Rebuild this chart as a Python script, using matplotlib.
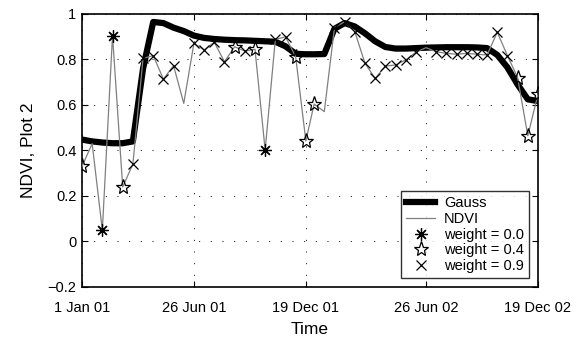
import datetime as dt
import matplotlib
matplotlib.use('Agg')
import matplotlib.pyplot as plt
import matplotlib.dates as mdates
import numpy as np

plt.rcParams['font.family'] = ['Liberation Sans', 'DejaVu Sans']

# 16-day composites, 23 per year, two years
dates = [dt.datetime(y, 1, 1) + dt.timedelta(days=16 * k)
         for y in (2001, 2002) for k in range(23)]

ndvi = [0.33, 0.43, 0.05, 0.905, 0.24, 0.34, 0.805, 0.817, 0.714, 0.773,
        0.607, 0.871, 0.842, 0.876, 0.79, 0.856, 0.837, 0.845, 0.402, 0.888,
        0.90, 0.812, 0.442, 0.604, 0.571, 0.94, 0.966, 0.922, 0.783, 0.717,
        0.771, 0.776, 0.798, 0.832, 0.852, 0.834, 0.827, 0.823, 0.827, 0.823,
        0.82, 0.92, 0.817, 0.72, 0.465, 0.647]

gauss = [0.448, 0.44, 0.435, 0.432, 0.432, 0.44, 0.76, 0.965, 0.96, 0.94,
         0.925, 0.905, 0.895, 0.89, 0.887, 0.885, 0.884, 0.882, 0.88, 0.878,
         0.858, 0.825, 0.823, 0.823, 0.824, 0.935, 0.96, 0.945, 0.915, 0.88,
         0.855, 0.848, 0.848, 0.85, 0.852, 0.853, 0.854, 0.854, 0.854, 0.853,
         0.85, 0.82, 0.765, 0.69, 0.625, 0.617]

weights = [0.4, 1.0, 0.0, 0.0, 0.4, 0.9, 0.9, 0.9, 0.9, 0.9,
           1.0, 0.9, 0.9, 0.9, 0.9, 0.4, 0.9, 0.4, 0.0, 0.9,
           0.9, 0.4, 0.4, 0.4, 1.0, 0.9, 0.9, 0.9, 0.9, 0.9,
           0.9, 0.9, 0.9, 0.9, 1.0, 0.9, 0.9, 0.9, 0.9, 0.9,
           0.9, 0.9, 0.9, 0.4, 0.4, 0.4]

tick_dates = ['2001-01-01', '2001-06-26', '2001-12-19', '2002-06-26', '2002-12-19']
tick_labels = ['1 Jan 01', '26 Jun 01', '19 Dec 01', '26 Jun 02', '19 Dec 02']
y_ticks = [-0.2, 0, 0.2, 0.4, 0.6, 0.8, 1]
y_labels = ['\u22120.2', '0', '0.2', '0.4', '0.6', '0.8', '1']

x = mdates.date2num(dates)
ndvi = np.array(ndvi)
weights = np.array(weights)

fig = plt.figure(figsize=(5.84, 3.38), dpi=100)
ax = fig.add_axes([0.1404, 0.1509, 0.7808, 0.8077])

ax.plot(x, gauss, color='black', lw=4.5, label='Gauss', zorder=3)
ax.plot(x, ndvi, color='#808080', lw=0.9, label='NDVI', zorder=4)

m = weights == 0.0
ax.plot(x[m], ndvi[m], ls='none', marker=(8, 2, 0), ms=9, mec='black',
        mew=0.9, color='black', label='weight = 0.0', zorder=5)
m = weights == 0.4
ax.plot(x[m], ndvi[m], ls='none', marker='*', ms=11, mec='black',
        mfc='none', mew=0.9, label='weight = 0.4', zorder=5)
m = weights == 0.9
ax.plot(x[m], ndvi[m], ls='none', marker='x', ms=7.5, mec='black',
        mew=0.9, color='black', label='weight = 0.9', zorder=5)

ax.set_xlim(x[0], x[-1])
ax.set_ylim(-0.2, 1)
ax.set_xticks(mdates.date2num([dt.datetime.fromisoformat(d) for d in tick_dates]))
ax.set_xticklabels(tick_labels)
ax.set_yticks(y_ticks)
ax.set_yticklabels(y_labels)
ax.tick_params(direction='in', length=4, width=0.8, labelsize=10.5,
               top=True, right=True)
ax.tick_params(axis='x', pad=10)
ax.tick_params(axis='y', pad=4)
for s in ax.spines.values():
    s.set_linewidth(1.2)
ax.grid(True, color='black', lw=0.7, ls=(0, (1, 11)))

ax.set_xlabel('Time', fontsize=12.5, labelpad=5)
ax.set_ylabel('NDVI, Plot 2', fontsize=12.5, labelpad=8)

leg = ax.legend(loc='lower right', fontsize=10.5, frameon=True, fancybox=False,
                borderaxespad=0.6, handlelength=2.0, handletextpad=0.6,
                labelspacing=0.12, borderpad=0.35)
leg.get_frame().set_edgecolor('black')
leg.get_frame().set_linewidth(1.0)

fig.savefig('out.png', dpi=100)
